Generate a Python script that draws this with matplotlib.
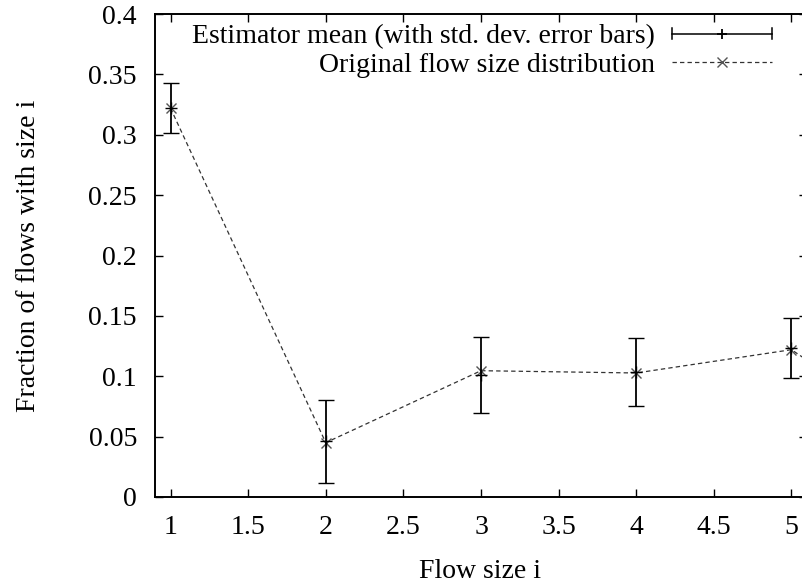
import matplotlib.pyplot as plt
from matplotlib.legend_handler import HandlerBase
from matplotlib.lines import Line2D

plt.rcParams['font.family'] = ['Liberation Serif', 'DejaVu Serif']

# estimator mean and its standard deviation per flow size
sizes = [1, 2, 3, 4, 5]
est_mean = [0.322, 0.046, 0.101, 0.1035, 0.1234]
est_std = [0.0207, 0.034, 0.0314, 0.028, 0.0252]

# original flow size distribution (continues past the plotted range)
orig_sizes = [1, 2, 3, 4, 5, 6]
orig_frac = [0.322, 0.045, 0.1046, 0.1027, 0.122, 0.035]

x_ticks = [1, 1.5, 2, 2.5, 3, 3.5, 4, 4.5, 5]
x_tick_labels = ['1', '1.5', '2', '2.5', '3', '3.5', '4', '4.5', '5']
y_ticks = [0, 0.05, 0.1, 0.15, 0.2, 0.25, 0.3, 0.35, 0.4]
y_tick_labels = ['0', '0.05', '0.1', '0.15', '0.2', '0.25', '0.3', '0.35', '0.4']

FS = 20


class HorizErrHandler(HandlerBase):
    """gnuplot-like key sample: horizontal bar with end caps and a + in the middle"""
    def create_artists(self, legend, orig_handle, xdescent, ydescent,
                       width, height, fontsize, trans):
        y = height / 2 - ydescent
        x0, x1 = -xdescent, width - xdescent
        cap = 4
        bar = Line2D([x0, x1], [y, y], color='black', lw=1.1)
        c0 = Line2D([x0, x0], [y - cap, y + cap], color='black', lw=1.1)
        c1 = Line2D([x1, x1], [y - cap, y + cap], color='black', lw=1.1)
        mid = Line2D([(x0 + x1) / 2], [y], marker='+', color='black',
                     markersize=7, mew=1.3, linestyle='none')
        arts = [bar, c0, c1, mid]
        for a in arts:
            a.set_transform(trans)
        return arts


fig = plt.figure(figsize=(8.02, 5.87), dpi=100)
ax = fig.add_axes([155 / 802, 90 / 587, 652 / 802, 483 / 587])

err = ax.errorbar(sizes, est_mean, yerr=est_std, fmt='+', color='black',
                  ecolor='black', elinewidth=1.3, capsize=5.5, capthick=1.3,
                  markersize=8, mew=1.0, zorder=3)
orig, = ax.plot(orig_sizes, orig_frac, linestyle=(0, (3.5, 2.5)), lw=0.9,
                color='#333333', marker='x', markersize=7, mew=1.0,
                markeredgecolor='#555555', zorder=2)

ax.set_xlim(0.9, 5.1)
ax.set_ylim(0, 0.4)
ax.set_xticks(x_ticks, x_tick_labels)
ax.set_yticks(y_ticks, y_tick_labels)
ax.tick_params(direction='in', length=6, width=1.0, top=True, right=True,
               labelsize=FS)
ax.tick_params(axis='y', pad=13)
ax.tick_params(axis='x', pad=13)
for s in ax.spines.values():
    s.set_linewidth(1.4)

ax.set_xlabel('Flow size i', fontsize=FS)
ax.set_ylabel('Fraction of flows with size i', fontsize=FS)
ax.xaxis.set_label_coords(325 / 652, -62 / 483)
ax.yaxis.set_label_coords(-114 / 652, 0.5)

leg = ax.legend([err, orig],
                ['Estimator mean (with std. dev. error bars)',
                 'Original flow size distribution'],
                handler_map={type(err): HorizErrHandler()},
                loc='upper right', bbox_to_anchor=(772 / 802, 1 - 24 / 587),
                bbox_transform=fig.transFigure, markerfirst=False,
                frameon=False, fontsize=FS, handlelength=100 / 27.8,
                handletextpad=17 / 27.8, labelspacing=0.12, borderpad=0,
                borderaxespad=0)
for t in leg.get_texts():
    t.set_ha('right')

fig.savefig('out.png', dpi=100)
